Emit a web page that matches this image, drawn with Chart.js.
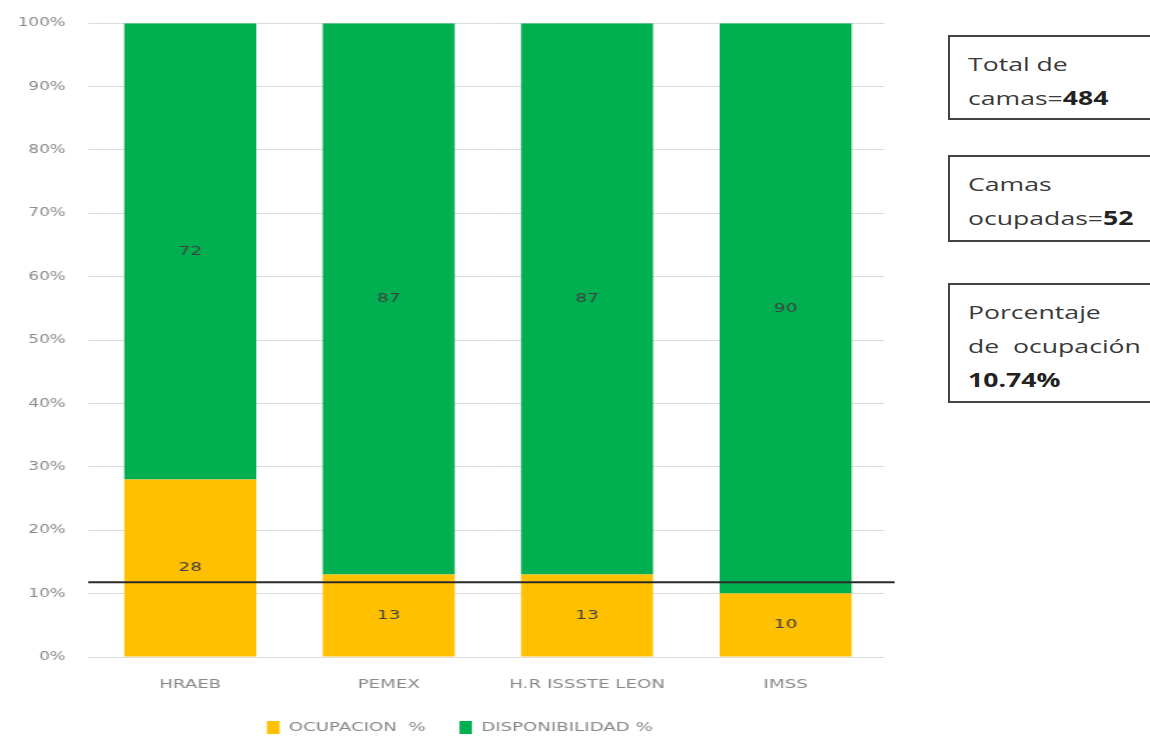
<!DOCTYPE html>
<html>
<head>
<meta charset="utf-8">
<script src="https://cdn.jsdelivr.net/npm/chart.js@4.4.1/dist/chart.umd.min.js"></script>
<style>
  html, body { margin: 0; padding: 0; background: #fff; }
  body { width: 1150px; height: 738px; position: relative; overflow: hidden; font-family: "Open Sans", "Noto Sans", sans-serif; }
  #wrap { position: absolute; left: 0; top: 0; width: 643px; height: 744px; transform: scaleX(1.4); transform-origin: 0 0; }
  .box { position: absolute; left: 948px; width: 210px; border: 2px solid #444; box-sizing: border-box;
         padding: 0 0 0 18px; color: #3a3a3a; font-size: 19px; line-height: 34px; }
  .box span { display: inline-block; transform: scaleX(1.4); transform-origin: left center; white-space: nowrap; }
  .box b { color: #222; }
</style>
</head>
<body>
<div id="wrap"><canvas id="c"></canvas></div>
<div class="box" style="top:35px;height:85px;padding-top:10px;"><span>Total de</span><br><span>camas=<b>484</b></span></div>
<div class="box" style="top:155px;height:87px;padding-top:10px;"><span>Camas</span><br><span>ocupadas=<b>52</b></span></div>
<div class="box" style="top:283px;height:120px;padding-top:10px;"><span>Porcentaje</span><br><span>de&nbsp; ocupación</span><br><span><b>10.74%</b></span></div>
<script>
const categories = ["HRAEB", "PEMEX", "H.R ISSSTE LEON", "IMSS"];
const ocupacion = [28, 13, 13, 10];
const disponibilidad = [72, 87, 87, 90];
const seriesNames = ["OCUPACION  %", "DISPONIBILIDAD %"];
const yTicks = [0, 10, 20, 30, 40, 50, 60, 70, 80, 90, 100];
const referenceLine = 11.8;

const FONT = '"DejaVu Sans", sans-serif';

const refLinePlugin = {
  id: 'refLine',
  afterDatasetsDraw(chart) {
    const ctx = chart.ctx, y = chart.scales.y.getPixelForValue(referenceLine);
    ctx.save();
    ctx.strokeStyle = '#2b2b2b';
    ctx.lineWidth = 2;
    ctx.beginPath();
    ctx.moveTo(chart.chartArea.left - 2, y);
    ctx.lineTo(chart.chartArea.right + 7, y);
    ctx.stroke();
    ctx.restore();
    ctx.save();
    ctx.font = '13px ' + FONT;
    ctx.fillStyle = '#404040';
    ctx.textAlign = 'center';
    ctx.textBaseline = 'middle';
    chart.data.datasets.forEach((ds, di) => {
      const meta = chart.getDatasetMeta(di);
      meta.data.forEach((bar, i) => {
        const p = bar.getProps(['x', 'y', 'base'], true);
        ctx.fillText(String(ds.data[i]), p.x, (p.y + p.base) / 2);
      });
    });
    ctx.restore();
  }
};

const legendShift = {
  id: 'legendShift',
  afterLayout(chart) { if (chart.legend) chart.legend.right += 25; }
};

new Chart(document.getElementById('c'), {
  type: 'bar',
  data: {
    labels: categories,
    datasets: [
      { label: seriesNames[0], data: ocupacion, backgroundColor: '#FFC000', borderWidth: 0 },
      { label: seriesNames[1], data: disponibilidad, backgroundColor: '#00B050', borderWidth: 0 }
    ]
  },
  options: {
    responsive: true,
    maintainAspectRatio: false,
    animation: false,
    events: [],
    layout: { padding: { left: 0, right: 11, top: 8, bottom: 0 } },
    datasets: { bar: { categoryPercentage: 1, barPercentage: 0.665 } },
    plugins: {
      legend: {
        position: 'bottom',
        labels: { boxWidth: 9, boxHeight: 13, padding: 24, color: '#888888',
                  font: { size: 13, family: FONT } }
      },
      tooltip: { enabled: false }
    },
    scales: {
      x: {
        stacked: true,
        grid: { display: false },
        border: { display: false },
        afterFit(s) { s.height = 40; },
        ticks: { color: '#888888', padding: 12, font: { size: 13, family: FONT } }
      },
      y: {
        stacked: true,
        min: 0, max: 100,
        afterFit(s) { s.width = 65; },
        afterBuildTicks(s) { s.ticks = yTicks.map(v => ({ value: v })); },
        grid: { color: '#dcdcdc', tickLength: 2, tickColor: '#dcdcdc' },
        border: { display: false },
        ticks: { color: '#888888', padding: 16, font: { size: 12, family: FONT },
                 callback: v => v + '%' }
      }
    }
  },
  plugins: [refLinePlugin, legendShift]
});
</script>
</body>
</html>
